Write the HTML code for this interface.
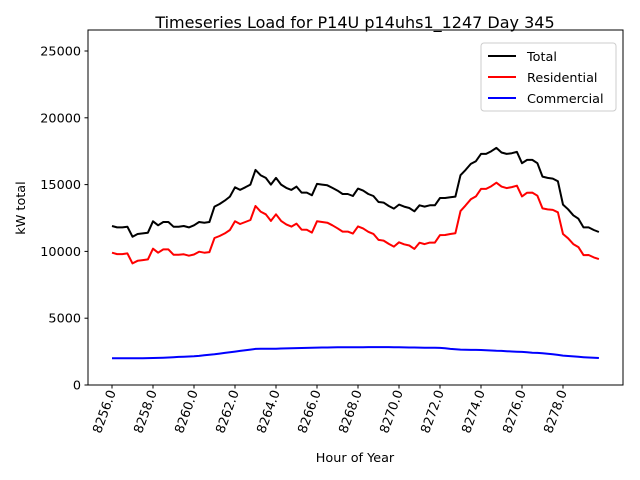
<!DOCTYPE html>
<html><head><meta charset="utf-8"><style>
body{margin:0;background:#fff}
svg{display:block;font-family:"DejaVu Sans","Liberation Sans",sans-serif}
</style></head><body>
<svg id="c" width="640" height="480" viewBox="0 0 640 480">
<rect width="640" height="480" fill="#fff"/>
<text x="355" y="28" text-anchor="middle" font-size="16">Timeseries Load for P14U p14uhs1_1247  Day 345</text>
<g id="plot"></g>
<rect x="88" y="30" width="535" height="355" fill="none" stroke="#000" stroke-width="1"/>
<text x="355" y="462" text-anchor="middle" font-size="12.8">Hour of Year</text>
<text transform="translate(25,208) rotate(-90)" text-anchor="middle" font-size="12.8">kW total</text>
<g>
<rect x="481" y="43" width="135" height="68" rx="3" fill="#fff" fill-opacity="0.8" stroke="#ccc"/>
<line x1="488" y1="56" x2="516" y2="56" stroke="#000" stroke-width="2"/>
<text x="527" y="61" font-size="12.8">Total</text>
<line x1="488" y1="77" x2="516" y2="77" stroke="red" stroke-width="2"/>
<text x="527" y="82" font-size="12.8">Residential</text>
<line x1="488" y1="98" x2="516" y2="98" stroke="blue" stroke-width="2"/>
<text x="527" y="103" font-size="12.8">Commercial</text>
</g>
</svg>
<script>
const startHour = 8256;
const stepHours = 0.25;
const xTicks = [8256,8258,8260,8262,8264,8266,8268,8270,8272,8274,8276,8278];
const xTickLabels = ["8256.0","8258.0","8260.0","8262.0","8264.0","8266.0","8268.0","8270.0","8272.0","8274.0","8276.0","8278.0"];
const yTicks = [0,5000,10000,15000,20000,25000];
const yTickLabels = ["0","5000","10000","15000","20000","25000"];
const total = [11900,11800,11800,11850,11100,11300,11350,11400,12250,11950,12200,12200,11850,11850,11900,11800,11950,12200,12150,12200,13350,13550,13800,14100,14800,14600,14800,15000,16100,15700,15500,15000,15500,15000,14750,14600,14850,14400,14400,14200,15050,15000,14950,14750,14550,14300,14300,14150,14700,14550,14300,14150,13700,13650,13400,13200,13500,13350,13250,13000,13450,13350,13450,13450,14000,14000,14050,14100,15700,16100,16550,16750,17300,17300,17500,17750,17400,17300,17350,17450,16600,16850,16850,16600,15600,15500,15450,15250,13500,13150,12700,12450,11800,11800,11600,11450];
const residential = [9900,9800,9800,9850,9100,9300,9350,9400,10200,9900,10150,10150,9750,9750,9780,9680,9770,9980,9900,9950,11000,11150,11350,11600,12250,12050,12200,12350,13400,12980,12780,12280,12780,12280,12020,11860,12080,11630,11620,11410,12250,12200,12150,11950,11730,11480,11480,11330,11870,11720,11470,11310,10860,10810,10560,10360,10680,10530,10440,10190,10650,10550,10660,10660,11220,11230,11300,11360,13020,13440,13900,14120,14680,14680,14880,15140,14850,14740,14810,14920,14120,14390,14400,14170,13220,13140,13110,12930,11300,10980,10550,10320,9720,9730,9550,9420];
const commercial = [2000,2000,2000,2000,2000,2000,2000,2010,2020,2030,2040,2060,2080,2100,2120,2130,2150,2180,2220,2260,2300,2350,2400,2450,2500,2550,2600,2650,2700,2710,2710,2720,2720,2730,2740,2750,2760,2770,2780,2790,2800,2805,2810,2815,2820,2822,2825,2828,2830,2832,2835,2838,2840,2840,2840,2830,2820,2815,2810,2805,2800,2795,2790,2785,2780,2750,2700,2680,2650,2640,2630,2625,2620,2600,2580,2560,2550,2530,2510,2490,2480,2450,2420,2400,2380,2340,2300,2250,2200,2170,2140,2110,2080,2060,2040,2020];

function xScale(h){return 112+(h-8256)*20.5;}
function yScale(v){return 385-v*334/25000;}
const NS="http://www.w3.org/2000/svg";
const plot=document.getElementById('plot');
const svg=document.getElementById('c');
function mk(t,a){const e=document.createElementNS(NS,t);for(const k in a)e.setAttribute(k,a[k]);return e;}

xTicks.forEach((h,i)=>{
  const x=xScale(h);
  const t=mk('line',{x1:x,y1:385,x2:x,y2:388.5,stroke:'#000'});
  
  
  svg.appendChild(t);
  const l=mk('text',{transform:`translate(${x+4},392) rotate(-70)`,'text-anchor':'end','font-size':'12.8'});
  
  
  l.textContent=xTickLabels[i];
  svg.appendChild(l);
});
yTicks.forEach((v,i)=>{
  const y=yScale(v);
  const t=mk('line',{x1:84.5,y1:y,x2:88,y2:y,stroke:'#000'});
  
  
  svg.appendChild(t);
  const l=mk('text',{x:81,y:y+4.5,'text-anchor':'end','font-size':'12.8'});
  
  
  l.textContent=yTickLabels[i];
  svg.appendChild(l);
});
function series(arr,color,name){
  const pts=arr.map((v,i)=>xScale(startHour+i*stepHours).toFixed(1)+','+yScale(v).toFixed(1)).join(' ');
  const p=mk('polyline',{points:pts,fill:'none',stroke:color,'stroke-width':2,'stroke-linejoin':'round'});
  
  
  plot.appendChild(p);
}
series(total,'#000','total-line');
series(residential,'red','residential-line');
series(commercial,'blue','commercial-line');
</script>
</body></html>
